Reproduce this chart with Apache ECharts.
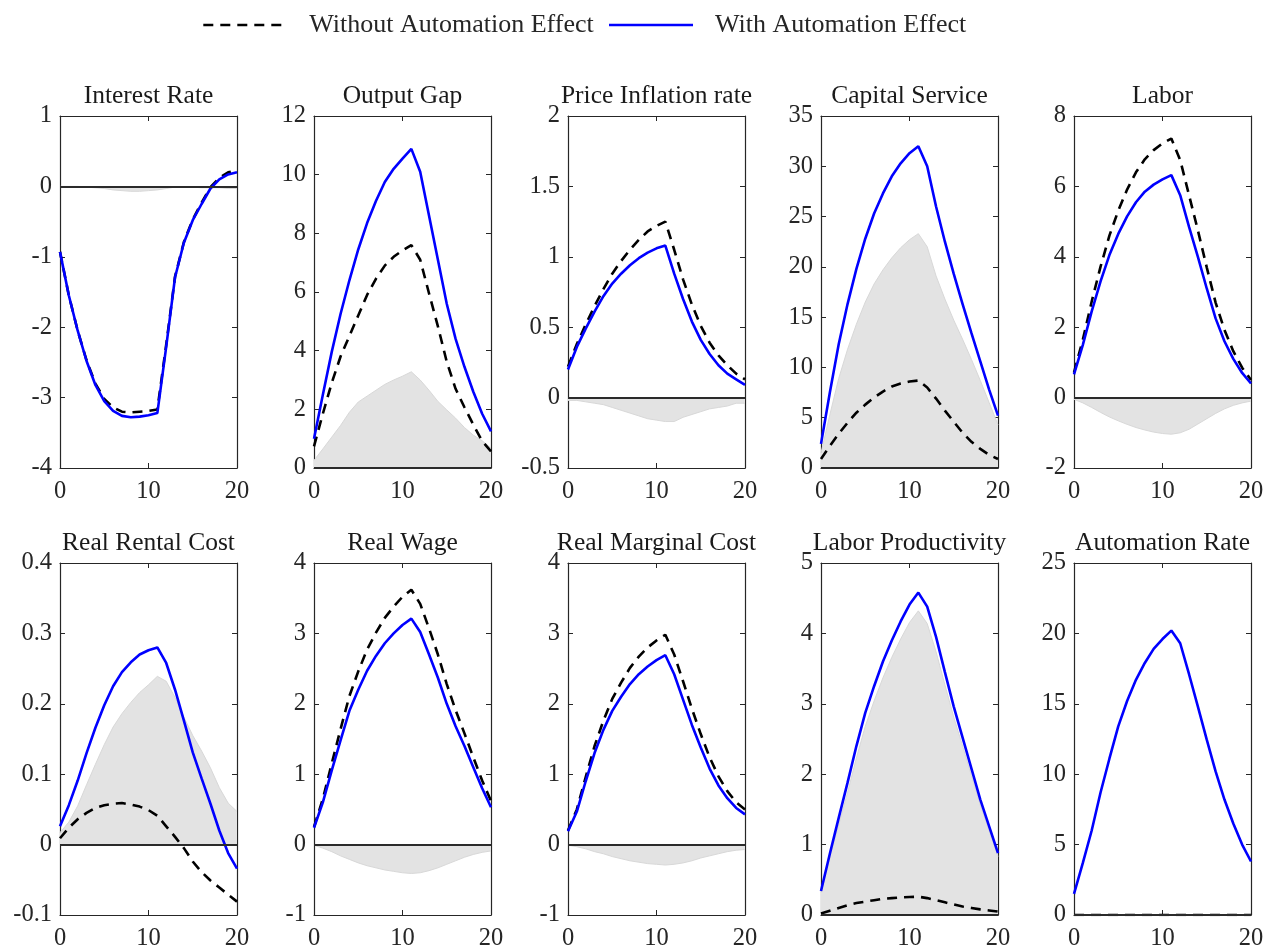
<!DOCTYPE html>
<html>
<head>
<meta charset="utf-8">
<script src="https://cdn.jsdelivr.net/npm/echarts@6/dist/echarts.min.js"></script>
<style>
  html, body { margin: 0; padding: 0; background: #ffffff; }
  #chart { width: 1267px; height: 951px; }
</style>
</head>
<body>
<div id="chart"></div>
<script>
// Impulse responses over 20 quarters, with and without the automation channel.
const periods = [0, 1, 2, 3, 4, 5, 6, 7, 8, 9, 10, 11, 12, 13, 14, 15, 16, 17, 18, 19, 20];

const seriesNames = ['Without Automation Effect', 'With Automation Effect'];

const panelTitles = [
  'Interest Rate', 'Output Gap', 'Price Inflation rate', 'Capital Service', 'Labor',
  'Real Rental Cost', 'Real Wage', 'Real Marginal Cost', 'Labor Productivity', 'Automation Rate'
];

// y-axis ticks per panel: [min, max, step]
const yTicks = [
  [-4, 1, 1], [0, 12, 2], [-0.5, 2, 0.5], [0, 35, 5], [-2, 8, 2],
  [-0.1, 0.4, 0.1], [-1, 4, 1], [-1, 4, 1], [0, 5, 1], [0, 25, 5]
];
const xTicks = [0, 20, 10];

const interestWith    = [-0.93, -1.55, -2.05, -2.48, -2.82, -3.05, -3.19, -3.26, -3.28, -3.27, -3.25, -3.22, -2.28, -1.29, -0.80, -0.48, -0.25, -0.03, 0.10, 0.17, 0.20];
const interestWithout = [-0.93, -1.55, -2.05, -2.47, -2.80, -3.02, -3.14, -3.20, -3.21, -3.20, -3.19, -3.17, -2.25, -1.28, -0.79, -0.47, -0.23, -0.01, 0.12, 0.20, 0.23];

const outputWith    = [1.00, 2.50, 3.95, 5.25, 6.40, 7.45, 8.35, 9.10, 9.75, 10.20, 10.55, 10.88, 10.10, 8.60, 7.10, 5.60, 4.40, 3.45, 2.60, 1.85, 1.25];
const outputWithout = [0.74, 1.85, 2.90, 3.80, 4.50, 5.20, 5.90, 6.45, 6.90, 7.20, 7.42, 7.60, 7.10, 5.95, 4.83, 3.62, 2.70, 2.07, 1.48, 0.92, 0.57];

const inflationWith    = [0.20, 0.36, 0.49, 0.61, 0.72, 0.81, 0.88, 0.94, 0.99, 1.03, 1.06, 1.08, 0.88, 0.70, 0.54, 0.41, 0.31, 0.23, 0.17, 0.13, 0.09];
const inflationWithout = [0.22, 0.38, 0.52, 0.65, 0.77, 0.88, 0.97, 1.05, 1.12, 1.18, 1.22, 1.25, 1.05, 0.84, 0.66, 0.51, 0.39, 0.30, 0.23, 0.17, 0.13];

const capitalWith    = [2.4, 7.5, 12.3, 16.3, 19.8, 22.8, 25.3, 27.3, 29.0, 30.3, 31.3, 32.0, 30.0, 26.0, 22.5, 19.3, 16.3, 13.4, 10.6, 7.8, 5.2];
const capitalWithout = [0.9, 2.2, 3.4, 4.5, 5.5, 6.3, 7.0, 7.6, 8.1, 8.4, 8.6, 8.7, 8.0, 6.9, 5.7, 4.6, 3.5, 2.6, 1.9, 1.3, 0.9];

const laborWith    = [0.66, 1.50, 2.45, 3.30, 4.05, 4.65, 5.15, 5.55, 5.85, 6.05, 6.20, 6.32, 5.75, 4.85, 4.00, 3.10, 2.25, 1.60, 1.10, 0.70, 0.40];
const laborWithout = [0.71, 1.65, 2.73, 3.72, 4.60, 5.31, 5.91, 6.40, 6.77, 7.03, 7.22, 7.36, 6.75, 5.75, 4.75, 3.70, 2.70, 1.92, 1.32, 0.85, 0.50];

const rentalWith    = [0.026, 0.056, 0.091, 0.130, 0.166, 0.198, 0.225, 0.245, 0.259, 0.270, 0.276, 0.280, 0.258, 0.220, 0.176, 0.131, 0.094, 0.058, 0.020, -0.012, -0.034];
const rentalWithout = [0.009, 0.024, 0.036, 0.045, 0.052, 0.056, 0.058, 0.059, 0.057, 0.054, 0.049, 0.041, 0.026, 0.011, -0.005, -0.024, -0.039, -0.051, -0.061, -0.071, -0.081];

const wageWith    = [0.24, 0.60, 1.05, 1.48, 1.90, 2.20, 2.47, 2.68, 2.86, 3.00, 3.12, 3.21, 3.02, 2.70, 2.37, 2.00, 1.68, 1.40, 1.10, 0.80, 0.53];
const wageWithout = [0.25, 0.65, 1.15, 1.64, 2.11, 2.46, 2.77, 3.01, 3.22, 3.38, 3.52, 3.62, 3.42, 3.07, 2.70, 2.28, 1.91, 1.58, 1.24, 0.91, 0.62];

const mcWith    = [0.19, 0.47, 0.90, 1.30, 1.63, 1.90, 2.10, 2.28, 2.42, 2.53, 2.62, 2.69, 2.42, 2.06, 1.70, 1.38, 1.08, 0.84, 0.66, 0.52, 0.43];
const mcWithout = [0.20, 0.50, 0.96, 1.40, 1.76, 2.07, 2.30, 2.51, 2.67, 2.80, 2.90, 2.98, 2.70, 2.32, 1.93, 1.57, 1.24, 0.97, 0.76, 0.60, 0.50];

const productivityWith    = [0.34, 0.87, 1.38, 1.88, 2.40, 2.87, 3.25, 3.60, 3.90, 4.17, 4.41, 4.58, 4.38, 3.95, 3.45, 2.96, 2.52, 2.08, 1.64, 1.26, 0.88];
const productivityWithout = [0.02, 0.06, 0.10, 0.14, 0.17, 0.19, 0.21, 0.23, 0.24, 0.25, 0.255, 0.26, 0.24, 0.21, 0.18, 0.15, 0.12, 0.10, 0.08, 0.065, 0.05];

const automationWith    = [1.5, 3.7, 6.0, 8.7, 11.1, 13.4, 15.2, 16.7, 17.9, 18.9, 19.6, 20.2, 19.3, 17.1, 14.8, 12.45, 10.2, 8.2, 6.5, 5.0, 3.8];
const automationWithout = [0, 0, 0, 0, 0, 0, 0, 0, 0, 0, 0, 0, 0, 0, 0, 0, 0, 0, 0, 0, 0];

const withEffect = [interestWith, outputWith, inflationWith, capitalWith, laborWith,
                    rentalWith, wageWith, mcWith, productivityWith, automationWith];
const withoutEffect = [interestWithout, outputWithout, inflationWithout, capitalWithout, laborWithout,
                       rentalWithout, wageWithout, mcWithout, productivityWithout, automationWithout];
// panels whose gap between the two responses is shaded
const shadeGap = [true, true, true, true, true, true, true, true, true, false];

// ---- layout and styling ----
const FONT = "'Liberation Serif', 'Times New Roman', serif";
const FS = 24.5;
const TEXT = '#262626';
const AXIS = '#262626';
const colLeft = [60, 314, 568, 821, 1074];
const rowTop = [116, 563];
const plotW = 177;
const plotH = 352;

const grids = [], xAxes = [], yAxes = [], series = [], titles = [];

function pairs(vals) { return periods.map((p, k) => [p, vals[k]]); }

for (let i = 0; i < 10; i++) {
  const col = i % 5, row = Math.floor(i / 5);
  const left = colLeft[col], top = rowTop[row];
  grids.push({ left: left, top: top, width: plotW, height: plotH, containLabel: false });

  const axisLine = { show: true, onZero: false, lineStyle: { color: AXIS, width: 1.2 } };
  const tick = { show: true, inside: true, length: 5, lineStyle: { color: AXIS, width: 1 } };
  const label = { color: TEXT, fontFamily: FONT, fontSize: FS };

  // bottom and top x axes
  xAxes.push({
    gridIndex: i, type: 'value', position: 'bottom',
    min: xTicks[0], max: xTicks[1], interval: xTicks[2],
    axisLine: axisLine, axisTick: tick, splitLine: { show: false },
    axisLabel: Object.assign({ margin: 11 }, label)
  });
  xAxes.push({
    gridIndex: i, type: 'value', position: 'top',
    min: xTicks[0], max: xTicks[1], interval: xTicks[2],
    axisLine: axisLine, axisTick: tick, splitLine: { show: false },
    axisLabel: { show: false }
  });

  const yt = yTicks[i];
  yAxes.push({
    gridIndex: i, type: 'value', position: 'left',
    min: yt[0], max: yt[1], interval: yt[2],
    axisLine: axisLine, axisTick: tick, splitLine: { show: false },
    axisLabel: Object.assign({ margin: 8 }, label)
  });
  yAxes.push({
    gridIndex: i, type: 'value', position: 'right',
    min: yt[0], max: yt[1], interval: yt[2],
    axisLine: axisLine, axisTick: tick, splitLine: { show: false },
    axisLabel: { show: false }
  });

  const xi = 2 * i, yi = 2 * i;

  if (shadeGap[i]) {
    // effect of automation: difference between the two responses
    const gap = withEffect[i].map((v, k) => v - withoutEffect[i][k]);
    series.push({
      name: 'gap', type: 'line', xAxisIndex: xi, yAxisIndex: yi,
      data: pairs(gap), symbol: 'none', silent: true, z: 1,
      lineStyle: { color: '#d8d8d8', width: 1 },
      areaStyle: { color: '#e3e3e3', opacity: 1, origin: 0 }
    });
  }

  series.push({
    name: seriesNames[0], type: 'line', xAxisIndex: xi, yAxisIndex: yi,
    data: pairs(withoutEffect[i]), symbol: 'none', z: 3,
    lineStyle: { color: '#000000', width: 2.6, type: [10, 7] },
    itemStyle: { color: '#000000' },
    markLine: {
      silent: true, symbol: 'none', label: { show: false },
      lineStyle: { color: '#2b2b2b', width: 2, type: 'solid' },
      data: [{ yAxis: 0 }]
    }
  });
  series.push({
    name: seriesNames[1], type: 'line', xAxisIndex: xi, yAxisIndex: yi,
    data: pairs(withEffect[i]), symbol: 'none', z: 4,
    lineStyle: { color: '#0000ff', width: 2.6 },
    itemStyle: { color: '#0000ff' }
  });

  titles.push({
    text: panelTitles[i],
    left: left + plotW / 2, top: top - 33, textAlign: 'center',
    padding: 0,
    textStyle: { color: '#1a1a1a', fontFamily: FONT, fontSize: 25.5, fontWeight: 'normal' }
  });
}

const chart = echarts.init(document.getElementById('chart'), null, { renderer: 'canvas' });
chart.setOption({
  backgroundColor: '#ffffff',
  animation: false,
  title: titles,
  legend: {
    data: seriesNames,
    left: 202, top: 12, padding: 0,
    itemWidth: 84, itemHeight: 26, itemGap: 14,
    itemStyle: { opacity: 0 },
    lineStyle: { width: 2.6 },
    textStyle: { color: TEXT, fontFamily: FONT, fontSize: 26, padding: [0, 0, 0, 17] },
    selectedMode: false
  },
  grid: grids,
  xAxis: xAxes,
  yAxis: yAxes,
  series: series
});
</script>
</body>
</html>
